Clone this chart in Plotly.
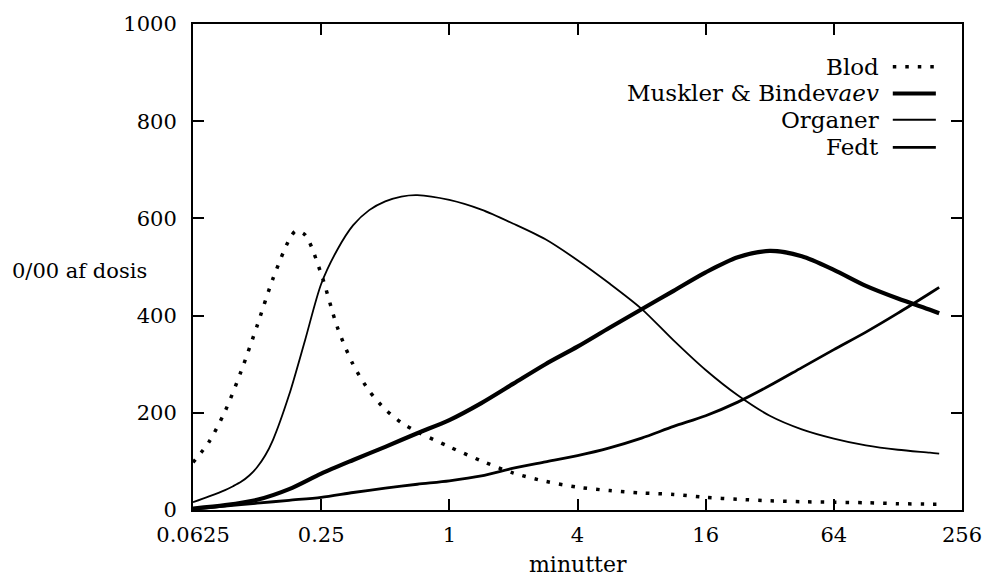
import plotly.graph_objects as go

# Time in minutes (log2 scale) and per-mille of dose in each compartment
blod_t = [0.0625, 0.0743, 0.0884, 0.1051, 0.125, 0.1487, 0.1768, 0.19, 0.2102,
          0.25, 0.2973, 0.3536, 0.4204, 0.5, 0.5946, 0.7071,
          1, 1.414, 2, 2.828, 4, 5.657, 8, 11.31, 16, 22.63, 32, 45.25, 64,
          90.51, 128, 181.0, 200]
blod_y = [98, 140, 203, 285, 379, 477, 556, 574, 566,
          486, 377, 299, 245, 207, 180, 161,
          130, 101, 76, 59, 47, 40, 35, 32, 26, 22, 19, 17, 16,
          15, 13, 12, 12]

muskler_t = [0.0625, 0.0884, 0.125, 0.1768, 0.25, 0.3536, 0.5, 0.7071,
             1, 1.414, 2, 2.828, 4, 5.657, 8, 11.31, 16, 22.63, 32, 45.25, 64,
             90.51, 128, 181.0, 200]
muskler_y = [3, 10, 21, 43, 75, 103, 130, 158,
             185, 220, 260, 300, 336, 375, 413, 451, 489, 520, 533, 522, 494,
             461, 435, 412, 405]

organer_t = [0.0625, 0.0743, 0.0884, 0.0964, 0.1051, 0.1149, 0.125, 0.1364,
             0.1487, 0.1768, 0.2102,
             0.25, 0.2973, 0.3536, 0.4204, 0.5, 0.5946, 0.7071,
             1, 1.414, 2, 2.828, 4, 5.657, 8, 11.31, 16, 22.63, 32, 45.25, 64,
             90.51, 128, 181.0, 200]
organer_y = [16, 28, 41, 49, 58, 71, 88, 112,
             145, 237, 350,
             465, 535, 586, 617, 635, 645, 648,
             638, 618, 589, 557, 514, 466, 414, 349, 288, 236, 194, 166, 147,
             133, 124, 118, 116]

fedt_t = [0.0625, 0.0884, 0.125, 0.1768, 0.25, 0.3536, 0.5, 0.7071,
          1, 1.414, 2, 2.828, 4, 5.657, 8, 11.31, 16, 22.63, 32, 45.25, 64,
          90.51, 128, 181.0, 200]
fedt_y = [2, 8, 14, 20, 26, 36, 45, 53,
          60, 70, 86, 99, 112, 128, 148, 172, 194, 222, 256, 293, 330,
          366, 405, 446, 458]

x_tickvals = [0.0625, 0.25, 1, 4, 16, 64, 256]
x_ticktext = ["0.0625", "0.25", "1", "4", "16", "64", "256"]
y_tickvals = [0, 200, 400, 600, 800, 1000]

series_names = ["Blod", "Muskler & Bindev<i>aev</i>", "Organer", "Fedt"]

FONT = "DejaVu Serif"
DOT = "3.5px,9px"

styles = [
    dict(width=3.5, dash=DOT),
    dict(width=4.2, dash="solid"),
    dict(width=1.8, dash="solid"),
    dict(width=2.8, dash="solid"),
]

fig = go.Figure()
for (tx, ty), st, name in zip(
    [(blod_t, blod_y), (muskler_t, muskler_y), (organer_t, organer_y), (fedt_t, fedt_y)],
    styles, series_names,
):
    fig.add_trace(go.Scatter(
        x=tx, y=ty, mode="lines", name=name, showlegend=False,
        line=dict(color="black", width=st["width"], dash=st["dash"],
                  shape="spline", smoothing=0.8),
    ))

# Key in the upper right: right-aligned label followed by a line sample
key_rows = [0.912, 0.857, 0.803, 0.746]
for name, st, yy in zip(series_names, styles, key_rows):
    fig.add_annotation(
        x=0.895, y=yy, xref="paper", yref="paper", text=name,
        showarrow=False, xanchor="right", yanchor="middle",
        font=dict(family=FONT, size=23, color="black"),
    )
    fig.add_shape(
        type="line", xref="paper", yref="paper",
        x0=0.910, x1=0.966, y0=yy, y1=yy,
        line=dict(color="black", width=st["width"], dash=st["dash"]),
    )

fig.add_annotation(
    x=-0.148, y=0.492, xref="paper", yref="paper", text="0/00 af dosis",
    showarrow=False, xanchor="center", yanchor="middle",
    font=dict(family=FONT, size=21, color="black"),
)
fig.add_annotation(
    x=0.5, y=-0.112, xref="paper", yref="paper", text="minutter",
    showarrow=False, xanchor="center", yanchor="middle",
    font=dict(family=FONT, size=22, color="black"),
)

axis_common = dict(
    showline=True, linecolor="black", linewidth=2, mirror="ticks",
    ticks="inside", ticklen=11, tickwidth=2, tickcolor="black",
    showgrid=False, zeroline=False,
    tickfont=dict(family=FONT, size=21, color="black"),
)

fig.update_xaxes(
    type="log", range=[-1.20412, 2.40824],
    tickvals=x_tickvals, ticktext=x_ticktext,
    ticklabelstandoff=5, **axis_common,
)
fig.update_yaxes(
    range=[0, 1000], tickvals=y_tickvals,
    ticklabelstandoff=10, **axis_common,
)

fig.update_layout(
    width=994, height=578,
    margin=dict(l=193, r=23, t=22, b=68),
    paper_bgcolor="white", plot_bgcolor="white",
    font=dict(family=FONT, color="black"),
)

fig.write_html("out.html")
